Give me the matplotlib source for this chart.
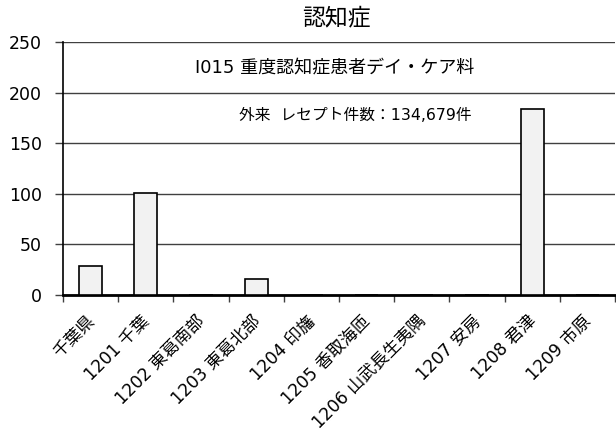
import matplotlib
matplotlib.use("Agg")
import matplotlib.pyplot as plt
import numpy as np

plt.rcParams['font.family'] = ['DejaVu Sans', 'Noto Sans CJK JP']

categories = ["千葉県", "1201 千葉", "1202 東葛南部", "1203 東葛北部", "1204 印旛",
              "1205 香取海匝", "1206 山武長生夷隅", "1207 安房", "1208 君津", "1209 市原"]
values = [29, 101, 0, 16, 0, 0, 0, 0, 184, 0]
title = "認知症"
subtitle = "I015 重度認知症患者デイ・ケア料"
note = "外来  レセプト件数：134,679件"
yticks = [0, 50, 100, 150, 200, 250]

fig = plt.figure(figsize=(6.16, 4.34), dpi=100)
ax = fig.add_axes([63/616, 1-295/434, (615-63)/616, (295-42)/434])

x = np.arange(len(categories))
ax.bar(x, values, width=0.42, color="#f2f2f2", edgecolor="black", linewidth=1.2, zorder=3)

ax.set_xlim(-0.5, len(categories)-0.5)
ax.set_ylim(0, 250)
ax.set_yticks(yticks)
ax.set_yticklabels([str(v) for v in yticks], fontsize=12.5)
ax.yaxis.grid(True, color="#404040", linewidth=1.0, zorder=0)
ax.set_axisbelow(True)

ax.set_xticks(np.arange(len(categories)+1) - 0.5)
ax.set_xticklabels([])
for i, cat in enumerate(categories):
    ax.annotate(cat, xy=(x[i], 0), xycoords=("data", "axes fraction"),
                xytext=(-5, -17), textcoords="offset pixels",
                rotation=45, ha="right", va="top", rotation_mode="anchor",
                fontsize=12.3, annotation_clip=False)
ax.tick_params(axis="x", length=5, width=1, color="#404040", direction="out")
ax.tick_params(axis="y", length=5.8, width=1, color="#404040", direction="out", pad=9.5)

for s in ["top", "right"]:
    ax.spines[s].set_visible(False)
ax.spines["left"].set_color("black")
ax.spines["left"].set_linewidth(1.2)
ax.spines["bottom"].set_color("black")
ax.spines["bottom"].set_linewidth(2)

fig.text(336/616, 1-18/434, title, ha="center", va="center", fontsize=16.5)
fig.text(335/616, 1-67/434, subtitle, ha="center", va="center", fontsize=13)
fig.text(355/616, 1-115/434, note, ha="center", va="center", fontsize=11.3)

fig.savefig("out.png", dpi=100)
